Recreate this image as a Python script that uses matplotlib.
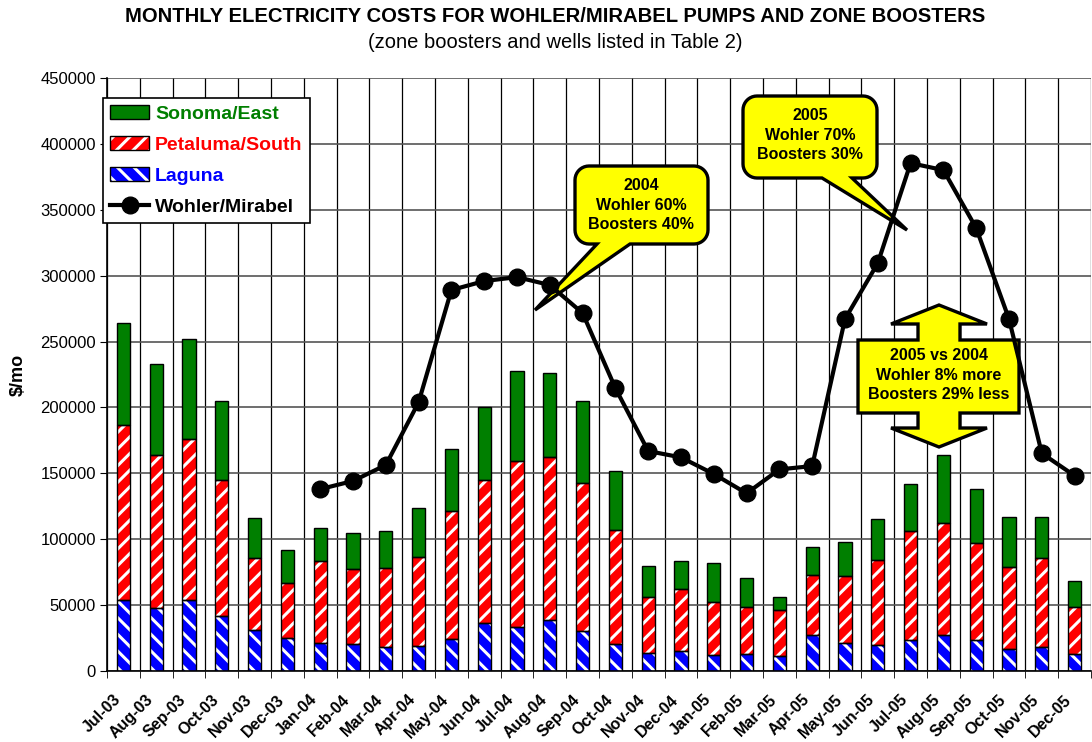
#!/usr/bin/env python3
"""Monthly electricity costs, Wohler/Mirabel pumps vs zone boosters.

Stacked booster bars (Laguna / Petaluma-South / Sonoma-East) with the
Wohler/Mirabel monthly cost as a line, plus the three yellow callouts.
"""
import numpy as np
import matplotlib
matplotlib.use('Agg')
import matplotlib.pyplot as plt
import matplotlib.transforms as mtransforms
from matplotlib.patches import Patch, Polygon
from matplotlib.lines import Line2D
from matplotlib.legend_handler import HandlerTuple

MONTHS = ['Jul-03', 'Aug-03', 'Sep-03', 'Oct-03', 'Nov-03', 'Dec-03',
          'Jan-04', 'Feb-04', 'Mar-04', 'Apr-04', 'May-04', 'Jun-04',
          'Jul-04', 'Aug-04', 'Sep-04', 'Oct-04', 'Nov-04', 'Dec-04',
          'Jan-05', 'Feb-05', 'Mar-05', 'Apr-05', 'May-05', 'Jun-05',
          'Jul-05', 'Aug-05', 'Sep-05', 'Oct-05', 'Nov-05', 'Dec-05']
LAGUNA = [53600, 47800, 53600, 42000, 31400, 25300, 21500, 20500, 18000,
          18700, 24300, 36400, 33600, 38700, 30600, 20300, 13900, 15400,
          11900, 12700, 11400, 27300, 21000, 19700, 23500, 27300, 23300,
          16700, 18000, 12700]
PETALUMA = [133000, 116100, 122200, 102700, 54100, 41500, 62000, 57200,
            60400, 68000, 97100, 108500, 126000, 123700, 111800, 86700,
            42000, 47000, 40200, 35900, 34900, 45500, 50800, 64700, 82700,
            85200, 74000, 62400, 68000, 36100]
SONOMA = [77700, 68800, 76100, 60400, 30600, 25200, 24800, 27000, 27600,
          37000, 47300, 55600, 68000, 63900, 62700, 44500, 24000, 21300,
          29800, 22200, 10100, 21000, 25800, 31200, 35700, 51100, 40800,
          37500, 30800, 19700]
WOHLER = [np.nan] * 6 + [
    138000, 144200, 156300, 203900, 289100, 295900, 298900, 292900, 271600,
    214600, 166900, 162100, 149500, 134800, 153000, 155500, 267100, 309500,
    385400, 380100, 336100, 267100, 165200, 148200]
Y_TICKS = list(range(0, 450001, 50000))

TITLE = 'MONTHLY ELECTRICITY COSTS FOR WOHLER/MIRABEL PUMPS AND ZONE BOOSTERS'
SUBTITLE = '(zone boosters and wells listed in Table 2)'
NOTE_2004 = '2004\nWohler 60%\nBoosters 40%'
NOTE_2005 = '2005\nWohler 70%\nBoosters 30%'
NOTE_VS = '2005 vs 2004\nWohler 8% more\nBoosters 29% less'

W, H = 1092, 742
GREEN, RED, BLUE, YELLOW = '#007f00', '#ff0000', '#0000ff', '#ffff00'
FONT = 'Liberation Sans'

plt.rcParams['font.family'] = [FONT, 'DejaVu Sans']
plt.rcParams['hatch.linewidth'] = 2.2


def fpx(x, y):
    """image pixel (y down) -> figure fraction"""
    return x / W, 1 - y / H


def bubble(x0, y0, x1, y1, r, bx0, bx1, tip):
    """rounded box with a wedge tail on the bottom edge, image pixels"""
    L, R, B, T = x0, x1, H - y1, H - y0
    pts = [(L + r, B), (bx0, B), (tip[0], H - tip[1]), (bx1, B)]
    for cx, cy, a0 in ((R - r, B + r, -90), (R - r, T - r, 0),
                       (L + r, T - r, 90), (L + r, B + r, 180)):
        for a in np.linspace(a0, a0 + 90, 10):
            pts.append((cx + r * np.cos(np.radians(a)),
                        cy + r * np.sin(np.radians(a))))
    return [(x / W, y / H) for x, y in pts]


def double_arrow(cx, top, hb_top, box_top, box_bot, hb_bot, bot,
                 head, shaft, box_l, box_r):
    p = [(cx, top), (cx + head, hb_top), (cx + shaft, hb_top),
         (cx + shaft, box_top), (box_r, box_top), (box_r, box_bot),
         (cx + shaft, box_bot), (cx + shaft, hb_bot), (cx + head, hb_bot),
         (cx, bot), (cx - head, hb_bot), (cx - shaft, hb_bot),
         (cx - shaft, box_bot), (box_l, box_bot), (box_l, box_top),
         (cx - shaft, box_top), (cx - shaft, hb_top), (cx - head, hb_top)]
    return [fpx(x, y) for x, y in p]


def stacked_bar(ax, x, bottom, vals, color, hatch):
    if hatch:
        ax.bar(x, vals, 0.4, bottom=bottom, color=color, edgecolor='white',
               hatch=hatch, lw=0, zorder=2)
        ax.bar(x, vals, 0.4, bottom=bottom, fill=False, edgecolor='black',
               lw=1, zorder=2.1)
    else:
        ax.bar(x, vals, 0.4, bottom=bottom, color=color, edgecolor='black',
               lw=1, zorder=2)


def main():
    fig = plt.figure(figsize=(W / 100, H / 100), dpi=100)
    ax = fig.add_axes([107 / W, 71 / H, 984 / W, 593 / H])

    x = np.arange(len(MONTHS))
    lag = np.array(LAGUNA, float)
    pet = np.array(PETALUMA, float)
    son = np.array(SONOMA, float)
    stacked_bar(ax, x, 0, lag, BLUE, '\\\\')
    stacked_bar(ax, x, lag, pet, RED, '//')
    stacked_bar(ax, x, lag + pet, son, GREEN, None)
    ax.plot(x, WOHLER, color='black', lw=3, marker='o', ms=12, zorder=5)

    ax.set_xlim(-0.5, len(MONTHS) - 0.5)
    ax.set_ylim(0, 450000)
    ax.set_yticks(Y_TICKS)
    ax.set_yticklabels([str(v) for v in Y_TICKS], fontsize=12)
    ax.set_xticks(x)
    ax.set_xticklabels(MONTHS, rotation=45, ha='right', va='top',
                       fontsize=11.5, fontweight='bold')
    shift = mtransforms.ScaledTranslation(-0.07, 0, fig.dpi_scale_trans)
    for lbl in ax.get_xticklabels():
        lbl.set_transform(lbl.get_transform() + shift)
    ax.set_xticks(np.arange(len(MONTHS) + 1) - 0.5, minor=True)
    ax.tick_params(axis='x', which='major', length=0, pad=15)
    ax.tick_params(axis='x', which='minor', length=5, direction='out')
    ax.tick_params(axis='y', length=5, direction='out', pad=3)
    ax.grid(axis='x', which='minor', color='black', lw=0.9, zorder=0.5)
    ax.grid(axis='y', which='major', color='#555555', lw=1.2, zorder=0.5)
    ax.set_axisbelow(True)
    for side in ('top', 'right'):
        ax.spines[side].set_visible(False)
    for side in ('left', 'bottom'):
        ax.spines[side].set_linewidth(1.2)

    # callouts: drawn above the grid/bars, below the Wohler line
    for pts in (bubble(575, 166, 708, 244, 14, 597, 630, (535, 310)),
                bubble(743, 96, 877, 178, 14, 822, 852, (907, 230)),
                double_arrow(939, 305, 324, 340, 413, 428, 447,
                             48, 21, 858, 1019)):
        ax.add_patch(Polygon(pts, closed=True, facecolor=YELLOW,
                             edgecolor='black', lw=2.4, zorder=4,
                             transform=fig.transFigure, clip_on=False))
    for (cx, cy), s in (((641, 205), NOTE_2004), ((810, 135), NOTE_2005),
                        ((939, 375), NOTE_VS)):
        fig.text(*fpx(cx, cy), s, ha='center', va='center', fontsize=11.5,
                 fontweight='bold', linespacing=1.35, zorder=6)

    handles = [
        Patch(facecolor=GREEN, edgecolor='black', lw=1),
        (Patch(facecolor=RED, edgecolor='white', hatch='//', lw=0),
         Patch(fill=False, edgecolor='black', lw=1)),
        (Patch(facecolor=BLUE, edgecolor='white', hatch='\\\\', lw=0),
         Patch(fill=False, edgecolor='black', lw=1)),
        Line2D([], [], color='black', lw=3, marker='o', ms=12),
    ]
    labels = ['Sonoma/East', 'Petaluma/South', 'Laguna', 'Wohler/Mirabel']
    leg = fig.legend(handles, labels, loc='upper left',
                     bbox_to_anchor=fpx(103, 98), borderaxespad=0,
                     fancybox=False, edgecolor='black', framealpha=1,
                     prop={'weight': 'bold', 'size': 14},
                     handlelength=2.0, handleheight=0.7, handletextpad=0.3,
                     labelspacing=0.68, borderpad=0.38,
                     handler_map={tuple: HandlerTuple(ndivide=1, pad=0)})
    leg.get_frame().set_linewidth(1.2)
    for t, c in zip(leg.get_texts(), [GREEN, RED, BLUE, 'black']):
        t.set_color(c)

    fig.text(*fpx(555, 16), TITLE, ha='center', va='center', fontsize=14.6,
             fontweight='bold')
    fig.text(*fpx(555, 42), SUBTITLE, ha='center', va='center', fontsize=14.5)
    fig.text(*fpx(18, 375), r'\$/mo', ha='center', va='center', rotation=90,
             fontsize=13, fontweight='bold')

    fig.savefig('out.png', dpi=100)
    plt.close(fig)


if __name__ == '__main__':
    main()
